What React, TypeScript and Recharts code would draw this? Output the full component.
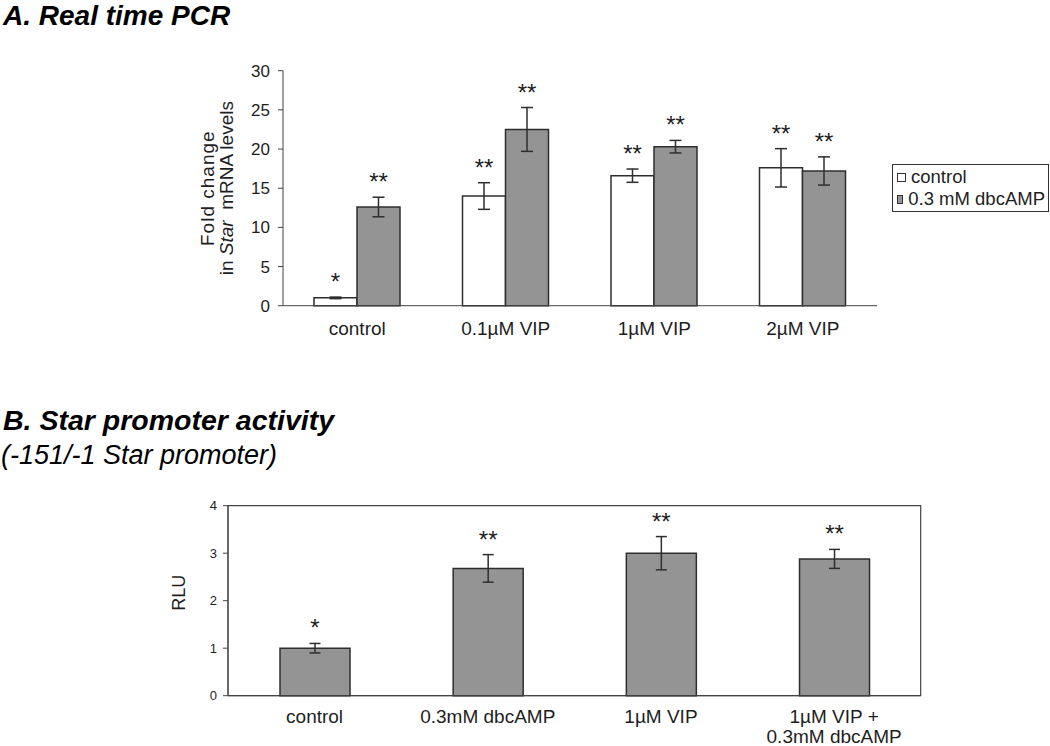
import React from 'react';
import { BarChart, Bar, XAxis, YAxis, ErrorBar, Legend, ReferenceArea } from 'recharts';

// ---------- Panel A data ----------
const categoriesA = ['control', '0.1µM VIP', '1µM VIP', '2µM VIP'];
const controlValues = [1.0, 14.0, 16.6, 17.6];
const controlErrors = [0.1, 1.7, 0.85, 2.45];
const controlStars = ['*', '**', '**', '**'];
const dbcValues = [12.6, 22.5, 20.3, 17.2];
const dbcErrors = [1.25, 2.8, 0.8, 1.8];
const dbcStars = ['**', '**', '**', '**'];
const ticksA = [0, 5, 10, 15, 20, 25, 30];

// ---------- Panel B data ----------
const categoriesB = ['control', '0.3mM dbcAMP', '1µM VIP', '1µM VIP +\n0.3mM dbcAMP'];
const rluValues = [1.0, 2.68, 3.0, 2.88];
const rluErrors = [0.1, 0.29, 0.35, 0.2];
const rluStars = ['*', '**', '**', '**'];
const ticksB = [0, 1, 2, 3, 4];

const seriesNames = ['control', '0.3 mM dbcAMP'];

const dataA = categoriesA.map((c, i) => ({
  name: c,
  ctrl: controlValues[i],
  ctrlErr: controlErrors[i],
  dbc: dbcValues[i],
  dbcErr: dbcErrors[i],
}));

const dataB = categoriesB.map((c, i) => ({
  name: c,
  rlu: rluValues[i],
  rluErr: rluErrors[i],
}));

const FONT = '"Liberation Sans", Arial, Helvetica, sans-serif';
const GRAY = '#949494';
const STROKE = '#2e2e2e';
const AXIS = '#444444';
const TEXT = '#1e1e1e';

const makeStarLabel = (errs: number[], vals: number[], stars: string[]) => (props: any) => {
  const { x, y, width, height, index } = props;
  const v = vals[index];
  const e = errs[index];
  const errTop = y - (e / v) * height;
  return (
    <text
      x={x + width / 2}
      y={errTop - 7}
      textAnchor="middle"
      fontSize={24}
      fontFamily={FONT}
      fill={TEXT}
    >
      {stars[index]}
    </text>
  );
};

const XTick = (props: any) => {
  const { x, y, payload, fontSize, firstDy, lineGap } = props;
  const lines = String(payload.value).split('\n');
  return (
    <text x={x} y={y} textAnchor="middle" fontSize={fontSize} fontFamily={FONT} fill={TEXT}>
      {lines.map((l, i) => (
        <tspan key={i} x={x} dy={i === 0 ? firstDy : lineGap}>
          {l}
        </tspan>
      ))}
    </text>
  );
};

const YLabelA = (props: any) => {
  const vb = props.viewBox || {};
  const cy = vb.y + vb.height / 2;
  const x1 = vb.x - 9;
  const x2 = vb.x + 10;
  return (
    <g fontFamily={FONT} fontSize={19} fill={TEXT}>
      <text
        transform={`translate(${x1},${cy}) rotate(-90)`}
        textAnchor="middle"
        letterSpacing={1}
      >
        Fold change
      </text>
      <text transform={`translate(${x2},${cy}) rotate(-90)`} textAnchor="middle" style={{ whiteSpace: 'pre' }}>
        in <tspan fontStyle="italic">Star</tspan>{'  mRNA levels'}
      </text>
    </g>
  );
};

const YLabelB = (props: any) => {
  const vb = props.viewBox || {};
  const cy = vb.y + vb.height / 2 - 8;
  const x = vb.x - 3;
  return (
    <text
      transform={`translate(${x},${cy}) rotate(-90)`}
      textAnchor="middle"
      fontFamily={FONT}
      fontSize={18}
      fill={TEXT}
    >
      RLU
    </text>
  );
};

const LegendBox = () => {
  const colors = ['#ffffff', GRAY];
  return (
    <div
      style={{
        border: '1px solid #333',
        background: '#fff',
        padding: '1px 3px 1px 4px',
        fontFamily: FONT,
        fontSize: 18.5,
        color: TEXT,
        lineHeight: '22px',
        boxSizing: 'border-box',
        width: 157,
      }}
    >
      {seriesNames.map((n, i) => (
        <div key={n} style={{ display: 'flex', alignItems: 'center', whiteSpace: 'nowrap' }}>
          <span
            style={{
              display: 'inline-block',
              width: 7,
              height: 7,
              border: '1px solid #333',
              background: colors[i],
              marginRight: 5,
            }}
          />
          {n}
        </div>
      ))}
    </div>
  );
};

const titleBase: React.CSSProperties = {
  position: 'absolute',
  fontFamily: FONT,
  color: '#000',
  whiteSpace: 'nowrap',
  lineHeight: '32px',
  fontStyle: 'italic',
};

export default function App() {
  return (
    <div
      style={{
        position: 'absolute',
        left: 0,
        top: 0,
        width: 1050,
        height: 746,
        background: '#fff',
        fontFamily: FONT,
        overflow: 'hidden',
      }}
    >
      <div style={{ ...titleBase, left: 3, top: 0, fontSize: 28, fontWeight: 'bold' }}>A. Real time PCR</div>
      <div style={{ ...titleBase, left: 3, top: 404, fontSize: 28.5, fontWeight: 'bold' }}>
        B. Star promoter activity
      </div>
      <div style={{ ...titleBase, left: 1, top: 439, fontSize: 27 }}>(-151/-1 Star promoter)</div>

      <div style={{ position: 'absolute', left: 0, top: 0 }}>
        <BarChart
          width={1050}
          height={350}
          data={dataA}
          margin={{ top: 70.7, right: 173, bottom: 14.3, left: 223 }}
          barGap={0}
        >
          <XAxis
            dataKey="name"
            height={30}
            stroke={AXIS}
            tickLine={false}
            interval={0}
            tick={<XTick fontSize={19} firstDy={23.5} lineGap={20} />}
            tickMargin={0}
          />
          <YAxis
            width={60}
            domain={[0, 30]}
            ticks={ticksA}
            stroke={AXIS}
            tickSize={5}
            tickMargin={8}
            tick={{ fontSize: 17, fill: TEXT, fontFamily: FONT }}
            label={<YLabelA />}
          />
          <Legend
            layout="horizontal"
            verticalAlign="middle"
            align="center"
            content={<LegendBox />}
            wrapperStyle={{ position: 'absolute', left: 892, top: 164, width: 157 }}
          />
          <Bar
            dataKey="ctrl"
            name={seriesNames[0]}
            fill="#ffffff"
            stroke={STROKE}
            strokeWidth={1.5}
            barSize={43}
            isAnimationActive={false}
            label={makeStarLabel(controlErrors, controlValues, controlStars)}
          >
            <ErrorBar dataKey="ctrlErr" width={6} stroke={STROKE} strokeWidth={1.5} />
          </Bar>
          <Bar
            dataKey="dbc"
            name={seriesNames[1]}
            fill={GRAY}
            stroke={STROKE}
            strokeWidth={1.5}
            barSize={43}
            isAnimationActive={false}
            label={makeStarLabel(dbcErrors, dbcValues, dbcStars)}
          >
            <ErrorBar dataKey="dbcErr" width={6} stroke={STROKE} strokeWidth={1.5} />
          </Bar>
        </BarChart>
      </div>

      <div style={{ position: 'absolute', left: 0, top: 460 }}>
        <BarChart
          width={1050}
          height={286}
          data={dataB}
          margin={{ top: 45.7, right: 129.3, bottom: 5.3, left: 188 }}
        >
          <ReferenceArea y1={0} y2={4} fill="none" stroke={AXIS} strokeWidth={1.2} ifOverflow="visible" />
          <XAxis
            dataKey="name"
            height={45}
            stroke={AXIS}
            tickLine={false}
            interval={0}
            tick={<XTick fontSize={19} firstDy={21.3} lineGap={19.5} />}
            tickMargin={0}
          />
          <YAxis
            width={40}
            domain={[0, 4]}
            ticks={ticksB}
            stroke={AXIS}
            tickSize={5}
            tickMargin={6}
            tick={{ fontSize: 13, fill: TEXT, fontFamily: FONT }}
            label={<YLabelB />}
          />
          <Bar
            dataKey="rlu"
            fill={GRAY}
            stroke={STROKE}
            strokeWidth={1.5}
            barSize={70}
            isAnimationActive={false}
            label={makeStarLabel(rluErrors, rluValues, rluStars)}
          >
            <ErrorBar dataKey="rluErr" width={5.5} stroke={STROKE} strokeWidth={1.5} />
          </Bar>
        </BarChart>
      </div>
    </div>
  );
}
